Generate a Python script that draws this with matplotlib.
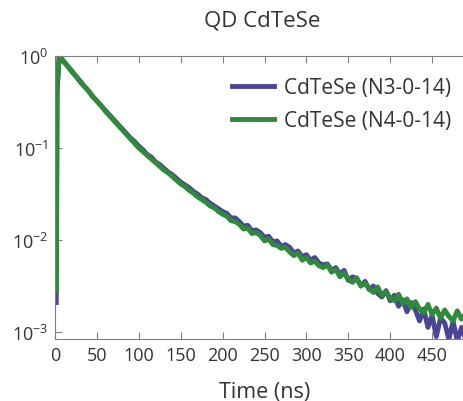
import numpy as np
from matplotlib import pyplot as plt

plt.rcParams['font.family'] = ['Open Sans', 'DejaVu Sans']
plt.rcParams['mathtext.fontset'] = 'custom'
plt.rcParams['mathtext.rm'] = 'Open Sans'

title = "QD CdTeSe"
x_label = "Time (ns)"
labels = ["CdTeSe (N3-0-14)", "CdTeSe (N4-0-14)"]

# time grid (ns): rise points, then every 5 ns
time_ns = np.concatenate([[1.5, 2.5], np.arange(5, 505, 5)])

# log10 of normalised PL intensity
blue_log = [-2.68, -0.40,
            0.00, -0.06, -0.11, -0.17, -0.22, -0.28, -0.33, -0.38, -0.44, -0.49,
            -0.54, -0.59, -0.64, -0.69, -0.74, -0.79, -0.84, -0.89, -0.93, -0.98,
            -1.02, -1.07, -1.10, -1.15, -1.18, -1.22, -1.26, -1.29, -1.33, -1.37,
            -1.40, -1.43, -1.47, -1.50, -1.54, -1.56, -1.60, -1.63, -1.66, -1.69,
            -1.71, -1.76, -1.76, -1.80, -1.85, -1.84, -1.90, -1.89, -1.92, -1.97,
            -1.96, -2.02, -2.01, -2.07, -2.05, -2.08, -2.14, -2.12, -2.18, -2.16,
            -2.22, -2.19, -2.25, -2.27, -2.26, -2.33, -2.30, -2.37, -2.33, -2.44,
            -2.40, -2.42, -2.50, -2.45, -2.54, -2.50, -2.58, -2.62, -2.55, -2.66,
            -2.60, -2.72, -2.65, -2.78, -2.68, -2.76, -2.88, -2.75, -2.95, -2.82,
            -3.05, -2.85, -2.90, -3.08, -2.88, -3.10, -2.95, -3.08, -2.90, -3.05]

green_log = [-2.55, -0.35,
             0.00, -0.05, -0.11, -0.16, -0.22, -0.27, -0.33, -0.38, -0.44, -0.49,
             -0.54, -0.60, -0.65, -0.70, -0.75, -0.80, -0.85, -0.90, -0.95, -1.00,
             -1.04, -1.08, -1.12, -1.16, -1.20, -1.24, -1.27, -1.31, -1.35, -1.39,
             -1.42, -1.46, -1.49, -1.53, -1.56, -1.59, -1.63, -1.65, -1.69, -1.72,
             -1.74, -1.79, -1.80, -1.83, -1.88, -1.87, -1.93, -1.92, -1.95, -2.01,
             -1.99, -2.05, -2.06, -2.09, -2.08, -2.13, -2.17, -2.14, -2.22, -2.19,
             -2.25, -2.23, -2.28, -2.30, -2.27, -2.35, -2.32, -2.40, -2.36, -2.43,
             -2.46, -2.41, -2.50, -2.47, -2.53, -2.57, -2.51, -2.60, -2.56, -2.63,
             -2.66, -2.59, -2.69, -2.64, -2.73, -2.67, -2.75, -2.79, -2.70, -2.81,
             -2.74, -2.85, -2.76, -2.83, -2.88, -2.77, -2.86, -2.80, -2.89, -2.82]

colors = ["#4b4596", "#2f8a3a"]

W, H = 463, 402
fig = plt.figure(figsize=(W / 100, H / 100), dpi=100)
# axes runs off the right side of the picture, as in the reference
ax = fig.add_axes([55 / W, 1 - 340 / H, 419 / W, 283 / H])

for vals, c, lab in zip([blue_log, green_log], colors, labels):
    ax.plot(time_ns, 10 ** np.asarray(vals), color=c, lw=3.5, label=lab)

ax.set_yscale('log')
ax.set_xlim(0, 500)
ax.set_ylim(10 ** -3.076, 1)
ax.set_xticks(np.arange(0, 500, 50))
ax.set_yticks([1e-3, 1e-2, 1e-1, 1])
ax.minorticks_off()

for s in ax.spines.values():
    s.set_color('#808080')
    s.set_linewidth(0.8)
ax.tick_params(direction='in', top=True, right=False, length=5, width=0.8,
               color='#808080', labelsize=13, labelcolor='#333333', pad=5)

ax.set_xlabel(x_label, fontsize=15.5, color='#333333', labelpad=12)
fig.text(262 / W, 1 - 21 / H, title, fontsize=16, color='#333333',
         ha='center', va='center')

ax.legend(loc='upper right', bbox_to_anchor=(462 / W, 1 - 68 / H),
          bbox_transform=fig.transFigure, frameon=False, fontsize=15,
          handlelength=2.0, handletextpad=0.5, labelspacing=0.55,
          borderpad=0, labelcolor='#333333')

fig.savefig('out.png', dpi=100)
